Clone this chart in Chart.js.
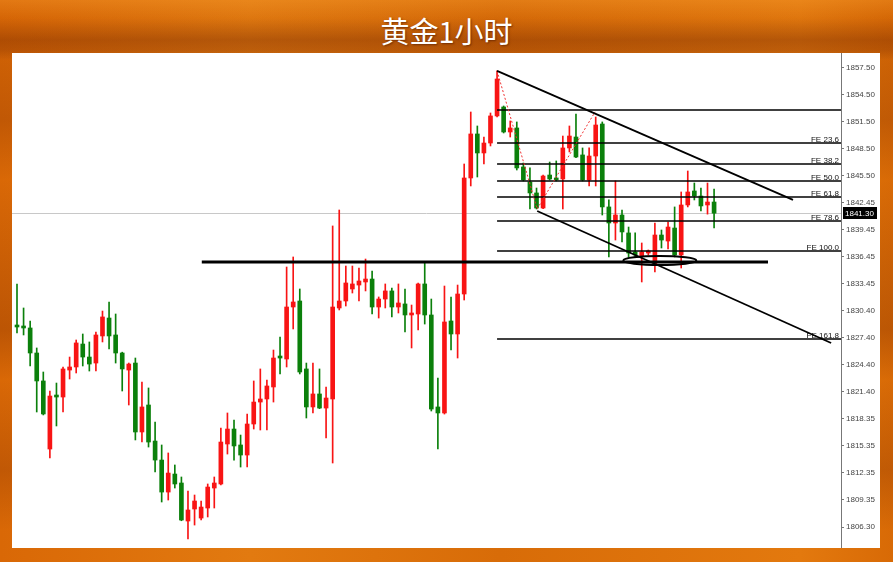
<!DOCTYPE html>
<html>
<head>
<meta charset="utf-8">
<script src="https://cdn.jsdelivr.net/npm/chart.js@4.4.1/dist/chart.umd.min.js"></script>
<style>
  html, body { margin: 0; padding: 0; }
  body {
    width: 893px; height: 562px; overflow: hidden; position: relative;
    background:
      linear-gradient(180deg, rgba(255,170,60,0.25) 0px, rgba(0,0,0,0) 18px, rgba(110,35,0,0.35) 40px, rgba(110,35,0,0.25) 50px, rgba(0,0,0,0) 60px),
      linear-gradient(180deg, rgba(0,0,0,0) 0px, rgba(120,40,0,0.25) 120px, rgba(0,0,0,0) 180px, rgba(120,40,0,0.3) 330px, rgba(0,0,0,0) 380px, rgba(120,40,0,0.25) 470px, rgba(0,0,0,0) 530px),
      linear-gradient(90deg, #d96806 0px, #e27a10 250px, #d86c08 500px, #e3790e 800px, #d86a06 893px);
    font-family: "Noto Sans CJK SC", sans-serif;
  }
  #title {
    position: absolute; left: 0; top: 10px; width: 893px; text-align: center;
    color: #fff; font-size: 29px; line-height: 40px;
    text-shadow: 1px 1px 2px rgba(90,30,0,0.7);
  }
  #box {
    position: absolute; left: 12px; top: 53px; width: 868px; height: 495px; background: #fff;
  }
</style>
</head>
<body>
<div id="title">黄金1小时</div>
<div id="box"><canvas id="c"></canvas></div>
<script>
// hourly gold candles, red = up, green = down
const opens = [1828.83,1828.61,1828.50,1825.71,1822.59,1815.00,1820.91,1820.80,1823.81,1824.15,
  1826.71,1825.26,1824.59,1827.61,1829.61,1827.72,1825.71,1823.81,1824.59,1816.90,
  1819.91,1815.89,1813.77,1810.20,1812.21,1811.21,1806.97,1808.31,1807.30,1808.42,
  1810.65,1811.10,1815.56,1817.23,1815.45,1814.33,1817.79,1820.24,1820.58,1821.92,
  1825.26,1825.04,1830.84,1831.51,1823.93,1819.69,1821.14,1819.57,1820.58,1830.73,
  1831.51,1832.85,1833.29,1833.63,1833.96,1830.84,1831.73,1832.63,1830.84,1831.18,
  1829.95,1830.06,1833.41,1829.95,1819.69,1819.02,1829.28,1827.83,1832.29,1845.23,
  1850.14,1848.02,1849.13,1852.15,1853.15,1850.36,1850.81,1846.46,1844.78,1843.56,
  1841.88,1845.56,1845.12,1845.12,1848.58,1849.80,1847.80,1845.01,1847.68,1851.25,
  1842.00,1840.21,1841.10,1839.10,1836.98,1836.53,1836.86,1835.53,1838.87,1838.20,
  1839.65,1836.64,1842.22,1843.78,1843.22,1842.22,1842.55];
const highs = [1833.41,1830.73,1829.28,1826.27,1823.59,1821.47,1822.36,1824.15,1825.26,1827.16,
  1827.83,1826.94,1828.05,1830.39,1831.40,1830.06,1825.80,1824.59,1825.15,1822.47,
  1821.81,1818.01,1815.45,1814.56,1813.22,1811.88,1810.32,1809.87,1809.20,1811.10,
  1811.88,1817.34,1819.02,1818.24,1816.56,1818.91,1822.59,1823.93,1822.70,1826.04,
  1827.49,1835.30,1836.42,1832.85,1824.59,1824.59,1823.93,1821.92,1839.88,1841.66,
  1835.41,1835.41,1835.19,1836.19,1834.86,1831.96,1833.41,1832.96,1833.41,1832.85,
  1831.06,1833.50,1835.75,1831.73,1822.92,1833.18,1831.96,1833.29,1846.79,1852.59,
  1851.03,1849.80,1852.48,1857.17,1853.26,1851.59,1851.48,1846.90,1846.35,1844.11,
  1845.56,1847.01,1847.13,1849.91,1851.03,1852.37,1848.58,1848.58,1852.03,1851.48,
  1842.78,1844.90,1841.66,1839.76,1839.10,1837.98,1837.20,1840.21,1839.43,1840.32,
  1842.00,1843.67,1846.01,1844.67,1844.11,1844.67,1844.00];
const lows = [1827.94,1827.72,1824.26,1819.13,1818.80,1814.00,1817.57,1819.13,1822.81,1823.48,
  1824.26,1823.70,1823.70,1826.94,1826.16,1824.59,1821.47,1819.91,1816.01,1815.78,
  1815.22,1812.44,1809.09,1809.31,1810.65,1807.00,1804.96,1806.52,1807.08,1807.42,
  1808.42,1811.00,1814.44,1813.77,1812.99,1812.99,1817.23,1817.12,1817.12,1820.24,
  1823.37,1824.15,1828.39,1823.37,1818.46,1819.02,1819.50,1816.23,1813.44,1830.51,
  1830.95,1832.40,1831.51,1832.63,1830.06,1829.61,1830.73,1829.73,1830.17,1828.05,
  1826.27,1828.28,1828.94,1819.24,1815.00,1818.90,1826.04,1825.15,1831.62,1844.34,
  1845.34,1846.79,1848.80,1852.03,1850.25,1849.80,1846.12,1844.90,1841.77,1841.77,
  1841.80,1845.01,1844.90,1841.77,1848.13,1847.50,1844.90,1844.34,1844.34,1841.10,
  1836.42,1838.31,1838.09,1836.42,1836.42,1833.63,1836.64,1834.74,1837.42,1837.31,
  1836.42,1835.19,1842.00,1842.78,1841.55,1841.20,1839.65];
const closes = [1828.61,1828.50,1825.71,1822.59,1818.91,1820.91,1820.80,1823.93,1824.15,1826.83,
  1825.26,1824.48,1827.72,1829.73,1827.61,1825.71,1823.93,1824.48,1816.90,1819.69,
  1815.78,1813.77,1810.20,1812.32,1811.10,1807.08,1808.20,1809.20,1808.53,1810.76,
  1811.21,1815.78,1817.23,1815.34,1814.33,1817.79,1820.24,1820.58,1822.03,1825.15,
  1825.15,1830.84,1831.40,1823.59,1819.69,1821.14,1819.57,1820.69,1830.84,1831.51,
  1833.52,1833.41,1833.74,1833.96,1830.84,1831.73,1832.63,1830.84,1831.29,1829.95,
  1830.17,1833.41,1829.95,1819.46,1819.02,1829.17,1827.83,1832.29,1845.23,1850.14,
  1848.02,1849.13,1852.15,1856.27,1850.36,1850.81,1846.35,1845.01,1843.56,1841.88,
  1845.45,1845.12,1845.01,1848.58,1849.91,1847.57,1845.01,1847.68,1851.14,1842.00,
  1840.21,1841.10,1839.21,1836.86,1836.64,1836.98,1837.09,1838.87,1838.31,1839.76,
  1836.64,1842.22,1843.67,1843.22,1842.11,1842.55,1841.30];

const yTicks = [1857.50,1854.50,1851.50,1848.50,1845.50,1842.45,1839.45,1836.45,1833.45,
  1830.40,1827.40,1824.40,1821.40,1818.35,1815.35,1812.35,1809.35,1806.30];
const lastPrice = 1841.30;

// fibo expansion from bar 73
const fibStart = 73;
const fibLevels = [1852.82,1849.13,1846.79,1844.90,1843.11,1840.43,1837.09,1827.27];
const fibLabels = ['','FE 23.6','FE 38.2','FE 50.0','FE 61.8','FE 78.6','FE 100.0','FE 161.8'];
// [bar, price] pairs
const upperTrend = [[73, 1857.17], [118, 1842.78]];
const lowerTrend = [[79.1, 1841.55], [123.8, 1826.83]];
const zigzag = [[73, 1857.17], [79.1, 1841.77], [87.9, 1852.60]];
const supportLine = [[28.1, 1835.86], [114.2, 1835.86]];
const ellipseBox = [[92.2, 1836.53], [103.3, 1835.53]];

const RED = '#f81414';
const GREEN = '#0b800b';
const cols = opens.map((o, i) => closes[i] >= o ? RED : GREEN);
const bodies = opens.map((o, i) => ({ x: i, y: [o, closes[i]] }));
const wicks = opens.map((o, i) => ({ x: i, y: [lows[i], highs[i]] }));

const annot = {
  id: 'annot',
  beforeDatasetsDraw(chart) {
    const { ctx, chartArea: a, scales: { y } } = chart;
    const py = Math.round(y.getPixelForValue(lastPrice)) + 0.5;
    ctx.save();
    ctx.strokeStyle = '#c8c8c8';
    ctx.lineWidth = 1;
    ctx.beginPath(); ctx.moveTo(a.left, py); ctx.lineTo(a.right, py); ctx.stroke();
    ctx.restore();
  },
  afterDatasetsDraw(chart) {
    const { ctx, chartArea: a, scales: { x, y } } = chart;
    const line = (pts, w, color, dash) => {
      ctx.save();
      ctx.strokeStyle = color; ctx.lineWidth = w; ctx.setLineDash(dash || []);
      ctx.beginPath();
      pts.forEach((p, i) => {
        const px = x.getPixelForValue(p[0]), py = y.getPixelForValue(p[1]);
        if (i === 0) ctx.moveTo(px, py); else ctx.lineTo(px, py);
      });
      ctx.stroke(); ctx.restore();
    };
    ctx.save();
    ctx.beginPath(); ctx.rect(a.left, a.top, a.right - a.left, a.bottom - a.top); ctx.clip();
    // fibo levels
    const x0 = x.getPixelForValue(fibStart);
    ctx.font = '8px "Liberation Sans"';
    ctx.textAlign = 'right';
    ctx.textBaseline = 'alphabetic';
    fibLevels.forEach((lv, i) => {
      const py = y.getPixelForValue(lv);
      ctx.strokeStyle = '#000'; ctx.lineWidth = 1.4;
      ctx.beginPath(); ctx.moveTo(x0, py); ctx.lineTo(a.right, py); ctx.stroke();
      if (fibLabels[i]) {
        ctx.fillStyle = '#111';
        ctx.fillText(fibLabels[i], a.right - 2, py - 1);
      }
    });
    line(zigzag, 1, '#f03030', [2, 2]);
    line(upperTrend, 1.8, '#000');
    line(lowerTrend, 1.8, '#000');
    line(supportLine, 3.2, '#000');
    // circled area
    const ex1 = x.getPixelForValue(ellipseBox[0][0]), ex2 = x.getPixelForValue(ellipseBox[1][0]);
    const ey1 = y.getPixelForValue(ellipseBox[0][1]), ey2 = y.getPixelForValue(ellipseBox[1][1]);
    ctx.strokeStyle = '#000'; ctx.lineWidth = 2; ctx.setLineDash([]);
    ctx.beginPath();
    ctx.ellipse((ex1 + ex2) / 2, (ey1 + ey2) / 2, (ex2 - ex1) / 2, (ey2 - ey1) / 2, 0, 0, Math.PI * 2);
    ctx.stroke();
    ctx.restore();
  },
  afterDraw(chart) {
    const { ctx, chartArea: a, scales: { y } } = chart;
    const py = Math.round(y.getPixelForValue(lastPrice));
    ctx.save();
    ctx.fillStyle = '#000';
    ctx.fillRect(a.right + 2, py - 6, 34, 12);
    ctx.fillStyle = '#fff';
    ctx.font = '8px "Liberation Sans"';
    ctx.textAlign = 'left'; ctx.textBaseline = 'middle';
    ctx.fillText(lastPrice.toFixed(2), a.right + 4, py + 0.5);
    ctx.restore();
  }
};

Chart.defaults.font.family = '"Liberation Sans", sans-serif';

new Chart(document.getElementById('c'), {
  type: 'bar',
  data: {
    datasets: [
      { data: wicks, backgroundColor: cols, barThickness: 1, grouped: false, order: 2, borderSkipped: false },
      { data: bodies, backgroundColor: cols, barThickness: 4, grouped: false, order: 1, minBarLength: 2, borderSkipped: false }
    ]
  },
  options: {
    responsive: true,
    maintainAspectRatio: false,
    animation: false,
    layout: { padding: 0, autoPadding: false },
    plugins: { legend: { display: false }, tooltip: { enabled: false } },
    scales: {
      x: { type: 'linear', min: -0.76, max: 125.3, display: false, offset: false },
      y: {
        position: 'right',
        min: 1803.96, max: 1859.17,
        afterBuildTicks: s => { s.ticks = yTicks.map(v => ({ value: v })); },
        afterFit: s => { s.width = 39; s.paddingTop = 0; s.paddingBottom = 0; },
        grid: { drawOnChartArea: false, drawTicks: true, tickLength: 3, color: '#777' },
        border: { display: true, color: '#777', width: 1 },
        ticks: {
          padding: 2, color: '#444', font: { size: 8 },
          callback: v => Number(v).toFixed(2)
        }
      }
    }
  },
  plugins: [annot]
});
</script>
</body>
</html>
